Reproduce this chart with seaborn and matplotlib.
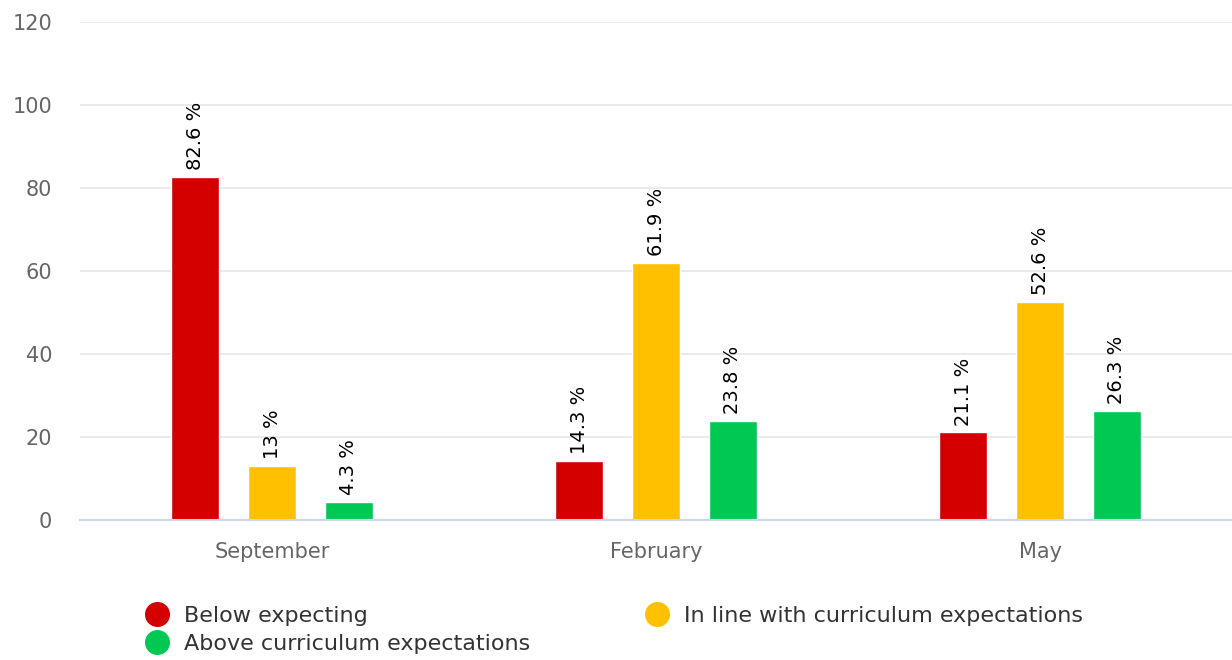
import matplotlib
matplotlib.use("Agg")
import matplotlib.pyplot as plt
from matplotlib.lines import Line2D
import seaborn as sns
import pandas as pd

# chart values
months = ["September", "February", "May"]
levels = ["Below expecting", "In line with curriculum expectations", "Above curriculum expectations"]
below = [82.6, 14.3, 21.1]
in_line = [13, 61.9, 52.6]
above = [4.3, 23.8, 26.3]
label_text = {
    "Below expecting": ["82.6 %", "14.3 %", "21.1 %"],
    "In line with curriculum expectations": ["13 %", "61.9 %", "52.6 %"],
    "Above curriculum expectations": ["4.3 %", "23.8 %", "26.3 %"],
}
colors = ["#d40000", "#ffc000", "#00c853"]

rows = []
for lvl, vals in zip(levels, [below, in_line, above]):
    for m, v in zip(months, vals):
        rows.append({"month": m, "level": lvl, "value": v})
df = pd.DataFrame(rows)

sns.set_style("white")
plt.rcParams["font.family"] = ["DejaVu Sans"]

fig = plt.figure(figsize=(12.32, 6.6), dpi=100)
ax = fig.add_axes([0.065, 0.212, 0.935, 0.755])

sns.barplot(data=df, x="month", y="value", hue="level", order=months,
            hue_order=levels, palette=colors, width=0.6, gap=0.375,
            saturation=1, ax=ax, legend=False)

for container, lvl in zip(ax.containers, levels):
    ax.bar_label(container, labels=label_text[lvl], rotation=90, padding=5,
                 fontsize=14, color="black")

ax.set_ylim(0, 120)
ax.set_yticks(range(0, 121, 20))
ax.set_xlim(-0.5, 2.5)
ax.yaxis.grid(True, color="#e6e6e6", linewidth=1.2)
ax.set_axisbelow(True)
ax.set_xlabel("")
ax.set_ylabel("")
for s in ["top", "right", "left"]:
    ax.spines[s].set_visible(False)
ax.spines["bottom"].set_color("#ccd6eb")
ax.spines["bottom"].set_linewidth(1.5)
ax.tick_params(axis="both", length=0, labelsize=15, colors="#666666")
ax.tick_params(axis="x", pad=16)
ax.tick_params(axis="y", pad=20)

# legend: column-wise fill -> order so "In line" sits in the right column
order = [0, 2, 1]
handles = [Line2D([], [], marker="o", linestyle="", markersize=17,
                  markerfacecolor=colors[i], markeredgecolor=colors[i]) for i in order]
fig.legend(handles, [levels[i] for i in order], ncol=2, frameon=False,
           loc="center left", bbox_to_anchor=(0.1007, 0.0455), fontsize=16,
           labelcolor="#333333", handletextpad=0.6, columnspacing=5.1,
           labelspacing=0.35, handlelength=1.2)

fig.savefig("out.png", dpi=100)
